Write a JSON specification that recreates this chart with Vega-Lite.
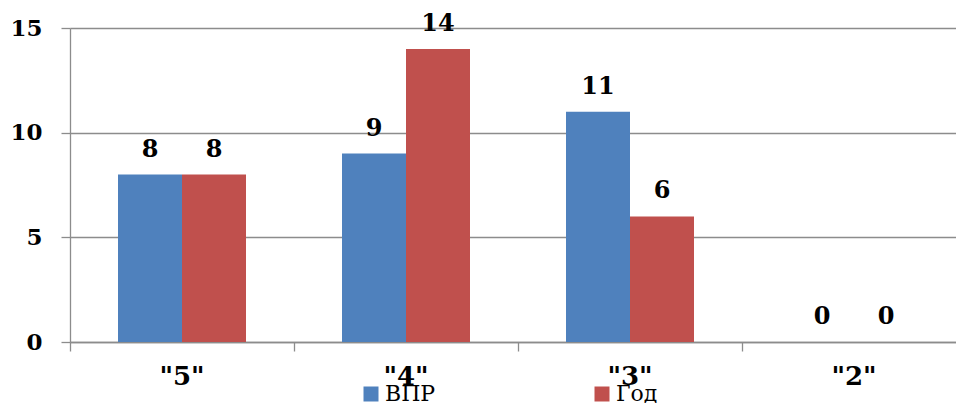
{
  "$schema": "https://vega.github.io/schema/vega-lite/v6.json",
  "width": 896,
  "height": 314,
  "autosize": {"type": "none"},
  "padding": {"left": 70, "top": 28, "right": 0, "bottom": 61},
  "background": "white",
  "data": {
    "values": [
      {"cat": "\"5\"", "series": "ВПР", "value": 8},
      {"cat": "\"5\"", "series": "Год", "value": 8},
      {"cat": "\"4\"", "series": "ВПР", "value": 9},
      {"cat": "\"4\"", "series": "Год", "value": 14},
      {"cat": "\"3\"", "series": "ВПР", "value": 11},
      {"cat": "\"3\"", "series": "Год", "value": 6},
      {"cat": "\"2\"", "series": "ВПР", "value": 0},
      {"cat": "\"2\"", "series": "Год", "value": 0}
    ]
  },
  "encoding": {
    "x": {
      "field": "cat",
      "type": "nominal",
      "sort": null,
      "scale": {"paddingInner": 0, "paddingOuter": 0},
      "axis": {
        "title": null,
        "bandPosition": 0,
        "labelAngle": 0,
        "labelFont": "DejaVu Serif",
        "labelFontWeight": "bold",
        "labelFontSize": 26,
        "labelColor": "black",
        "labelPadding": 12,
        "tickSize": 9,
        "tickColor": "#8c8c8c",
        "domainColor": "#8c8c8c",
        "domainWidth": 1.3,
        "tickWidth": 1.3
      }
    },
    "xOffset": {
      "field": "series",
      "type": "nominal",
      "sort": ["ВПР", "Год"],
      "scale": {"paddingInner": 0, "paddingOuter": 0.75}
    },
    "y": {
      "field": "value",
      "type": "quantitative",
      "scale": {"domain": [0, 15], "nice": false},
      "axis": {
        "title": null,
        "values": [0, 5, 10, 15],
        "labelFont": "DejaVu Serif",
        "labelFontWeight": "bold",
        "labelFontSize": 23,
        "labelColor": "black",
        "labelPadding": 19,
        "tickSize": 9,
        "tickColor": "#8c8c8c",
        "tickWidth": 1.3,
        "domainColor": "#8c8c8c",
        "domainWidth": 1.3,
        "grid": true,
        "gridColor": "#8c8c8c",
        "gridWidth": 1.3
      }
    }
  },
  "layer": [
    {
      "mark": {"type": "bar"},
      "encoding": {
        "color": {
          "field": "series",
          "type": "nominal",
          "sort": ["ВПР", "Год"],
          "scale": {"domain": ["ВПР", "Год"], "range": ["#4F81BD", "#C0504D"]},
          "legend": {
            "title": null,
            "orient": "none",
            "legendX": 290,
            "legendY": 355,
            "direction": "horizontal",
            "symbolType": "square",
            "symbolSize": 225,
            "symbolStrokeWidth": 0,
            "labelFont": "DejaVu Serif",
            "labelFontSize": 22,
            "labelColor": "black",
            "labelOffset": 3,
            "columnPadding": 155
          }
        }
      }
    },
    {
      "mark": {
        "type": "text",
        "font": "DejaVu Serif",
        "fontWeight": "bold",
        "fontSize": 24,
        "baseline": "alphabetic",
        "dy": -18,
        "color": "black"
      },
      "encoding": {
        "text": {"field": "value", "type": "quantitative"}
      }
    }
  ],
  "config": {
    "view": {"stroke": null}
  }
}
